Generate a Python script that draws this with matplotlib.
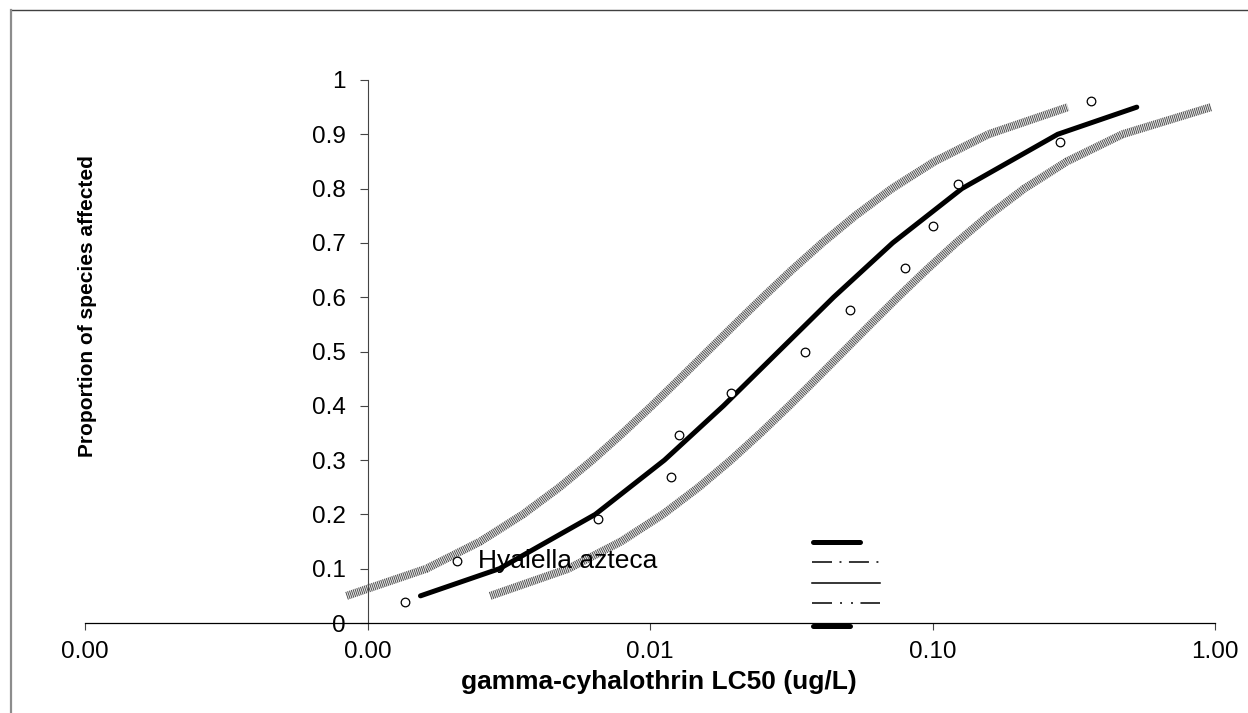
import numpy as np
import matplotlib.pyplot as plt
from matplotlib.lines import Line2D

plt.rcParams['font.family'] = ['Liberation Sans', 'DejaVu Sans']
plt.rcParams['lines.scale_dashes'] = False

# Species LC50 values (ug/L) and plotting positions
lc50 = [0.00136, 0.00207, 0.00655, 0.0119, 0.0127, 0.0194, 0.0355,
        0.0512, 0.080, 0.100, 0.123, 0.283, 0.364]
prop = [0.038, 0.115, 0.192, 0.269, 0.346, 0.423, 0.500,
        0.577, 0.654, 0.731, 0.808, 0.885, 0.962]

# Fitted SSD curve
fit_x = [0.00154, 0.00293, 0.00640, 0.01125, 0.01820, 0.02851,
         0.04467, 0.07228, 0.1271, 0.2773, 0.5285]
fit_y = [0.05, 0.10, 0.20, 0.30, 0.40, 0.50, 0.60, 0.70, 0.80, 0.90, 0.95]

# Confidence limits
band_y = [0.05, 0.10, 0.15, 0.20, 0.25, 0.30, 0.35, 0.40, 0.45, 0.50,
          0.55, 0.60, 0.65, 0.70, 0.75, 0.80, 0.85, 0.90, 0.95]
upper_x = [0.000844, 0.001616, 0.002505, 0.003548, 0.004782, 0.006254,
           0.008017, 0.01015, 0.01275, 0.01596, 0.01998, 0.02510,
           0.03177, 0.04073, 0.05326, 0.07178, 0.1017, 0.1576, 0.3017]
lower_x = [0.002721, 0.005140, 0.007893, 0.01110, 0.01487, 0.01934,
           0.02467, 0.03109, 0.03886, 0.04842, 0.06033, 0.07542,
           0.09502, 0.1212, 0.1576, 0.2113, 0.2990, 0.4700, 0.9680]

xticks = [0.0001, 0.001, 0.01, 0.1, 1]
xtick_labels = ['0.00', '0.00', '0.01', '0.10', '1.00']
yticks = [0, 0.1, 0.2, 0.3, 0.4, 0.5, 0.6, 0.7, 0.8, 0.9, 1]
ytick_labels = ['0', '0.1', '0.2', '0.3', '0.4', '0.5', '0.6', '0.7', '0.8', '0.9', '1']

W, H = 1248, 713
fig = plt.figure(figsize=(W / 100, H / 100), dpi=100)
ax = fig.add_axes([85 / W, 1 - 623 / H, 1130 / W, 543 / H])
ax.set_xscale('log')
ax.set_xlim(1e-4, 1)
ax.set_ylim(0, 1)

# confidence bands: stippled thick lines
for bx in (upper_x, lower_x):
    ax.plot(bx, band_y, color='#e0e0e0', lw=5.8, solid_capstyle='butt', zorder=2)
    ax.plot(bx, band_y, color='black', lw=5.8, dashes=(0.55, 0.85),
            dash_capstyle='butt', zorder=2, alpha=0.75)

ax.plot(fit_x, fit_y, color='black', lw=3.6, solid_capstyle='round',
        solid_joinstyle='miter', zorder=3)
ax.plot(lc50, prop, 'o', ms=6.2, mfc='white', mec='black', mew=0.9, zorder=4)

ax.annotate('Hyalella azteca', xy=(lc50[1], prop[1]), xytext=(15, 0),
            textcoords='offset points', va='center', ha='left', fontsize=19)

ax.spines['top'].set_visible(False)
ax.spines['right'].set_visible(False)
ax.spines['left'].set_position(('data', 0.001))
ax.spines['left'].set_color('#444444')
ax.spines['bottom'].set_linewidth(0.9)
ax.set_xticks(xticks)
ax.set_xticklabels(xtick_labels)
ax.xaxis.set_minor_locator(plt.NullLocator())
ax.set_yticks(yticks)
ax.set_yticklabels(ytick_labels)
ax.tick_params(axis='x', direction='out', length=5, width=0.8, colors='#444444',
               labelcolor='black', labelsize=17.5, pad=8)
ax.tick_params(axis='y', direction='out', length=5.8, width=0.8, colors='#444444',
               labelcolor='black', labelsize=17.5, pad=10)

ax.set_xlabel('gamma-cyhalothrin LC50 (ug/L)', fontsize=19, fontweight='bold', va='center')
ax.xaxis.set_label_coords((659 - 85) / 1130, (623 - 682) / 543)
ax.set_ylabel('Proportion of species affected', fontsize=15, fontweight='bold', va='center')
ax.yaxis.set_label_coords((88 - 85) / 1130, (623 - 306) / 543)


# legend samples without text (figure pixel positions)
def px(x, y):
    return x / W, 1 - y / H


def sample(x0, x1, y, **kw):
    (a, b), (c, d) = px(x0, y), px(x1, y)
    fig.add_artist(Line2D([a, c], [b, d], color='black', **kw))


sample(812.5, 859.5, 541.7, lw=3.6, solid_capstyle='round')
sample(812, 880, 562.3, lw=1.1, dashes=(14.4, 5.4, 1.4, 5.4))
sample(812, 880, 582.7, lw=1.1)
sample(812, 880, 603.3, lw=1.1, dashes=(14.4, 5.8, 1.4, 6.5, 1.4, 5.4))
sample(812.5, 850, 626, lw=3.6, solid_capstyle='round')
sample(872, 872.3, 626, lw=3.6, solid_capstyle='round')

# outer border
fig.add_artist(Line2D(*zip(px(11, 10), px(W, 10)), color='#404040', lw=1.0))
fig.add_artist(Line2D(*zip(px(11, 10), px(11, H)), color='#8c8c8c', lw=1.6))

fig.savefig('out.png', dpi=100)
